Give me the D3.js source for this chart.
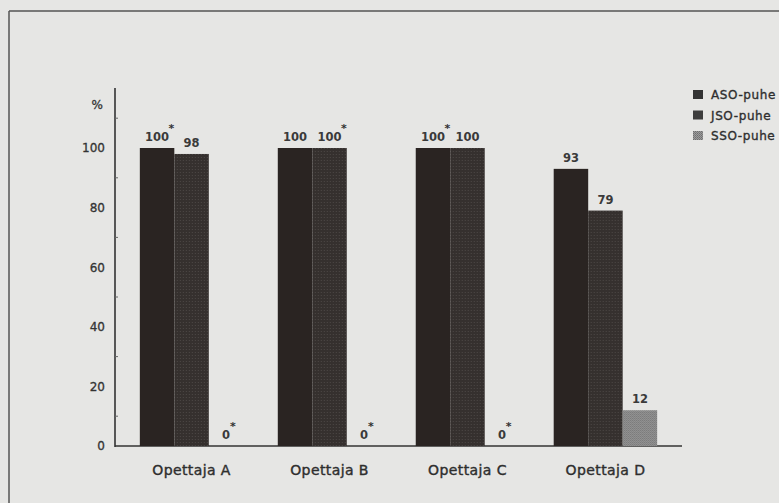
<!DOCTYPE html>
<html><head><meta charset="utf-8">
<script src="https://cdn.jsdelivr.net/npm/d3@7/dist/d3.min.js"></script>
<style>html,body{margin:0;padding:0;background:#e6e6e4;}svg{display:block;}</style>
</head><body>
<svg id="c" width="779" height="503"></svg>
<script>
const categories = ["Opettaja A", "Opettaja B", "Opettaja C", "Opettaja D"];
const series = ["ASO-puhe", "JSO-puhe", "SSO-puhe"];
const aso = [100, 100, 100, 93];
const jso = [98, 100, 100, 79];
const sso = [0, 0, 0, 12];
const asoStar = [true, false, true, false];
const jsoStar = [false, true, false, false];
const ssoStar = [true, true, true, false];
const yTicks = [0, 20, 40, 60, 80, 100];
const yMinorTicks = [10, 30, 50, 70, 90, 110];

const values = [aso, jso, sso];
const stars = [asoStar, jsoStar, ssoStar];

const svg = d3.select("#c");
const defs = svg.append("defs");
const pj = defs.append("pattern").attr("id","pj").attr("width",3).attr("height",3).attr("patternUnits","userSpaceOnUse");
pj.append("rect").attr("width",3).attr("height",3).attr("fill","#35302e");
pj.append("rect").attr("x",1).attr("y",1).attr("width",1).attr("height",1).attr("fill","#4d4846");
const ps = defs.append("pattern").attr("id","ps").attr("width",2).attr("height",2).attr("patternUnits","userSpaceOnUse");
ps.append("rect").attr("width",2).attr("height",2).attr("fill","#9c9c9c");
ps.append("rect").attr("width",1).attr("height",1).attr("fill","#6e6e6e");
ps.append("rect").attr("x",1).attr("y",1).attr("width",1).attr("height",1).attr("fill","#7a7a7a");

const fills = ["#2a2422", "url(#pj)", "url(#ps)"];
const legendFills = ["#333", "#3d3d3d", "url(#ps)"];

svg.append("line").attr("x1",9).attr("x2",779).attr("y1",11).attr("y2",11).attr("stroke","#555").attr("stroke-width",1.5);
svg.append("line").attr("x1",9).attr("x2",9).attr("y1",11).attr("y2",503).attr("stroke","#555").attr("stroke-width",1.5);

const y = d3.scaleLinear().domain([0, 100]).range([446, 148]);
const x = d3.scaleBand().domain(categories).range([115, 682]).paddingInner(0.25).paddingOuter(0.18);
const xi = d3.scaleBand().domain(series).range([0, x.bandwidth()]);

const ink = "#333";
const font = "DejaVu Sans, Liberation Sans, Arial, sans-serif";
function heavy(sel, w){ return sel.attr("stroke", "#333").attr("stroke-width", w).attr("paint-order","stroke"); }

svg.append("line").attr("x1",115).attr("x2",682).attr("y1",y(0)).attr("y2",y(0)).attr("stroke",ink).attr("stroke-width",1.5);

const yAxis = d3.axisLeft(y).tickValues(yTicks).tickSize(0).tickPadding(10);
const ga = svg.append("g").attr("transform","translate(115,0)").call(yAxis);
ga.select(".domain").remove();
heavy(ga.selectAll("text").attr("font-family",font).attr("font-size",12).attr("fill",ink), 0.3);
svg.append("line").attr("x1",115).attr("x2",115).attr("y1",88).attr("y2",y(0)+1).attr("stroke",ink).attr("stroke-width",1.6);
svg.selectAll(".minor").data(yMinorTicks).join("line")
  .attr("x1",115).attr("x2",118).attr("y1",d=>y(d)).attr("y2",d=>y(d)).attr("stroke","#666").attr("stroke-width",1);
heavy(svg.append("text").attr("x",103).attr("y",109).attr("text-anchor","end").attr("font-family",font).attr("font-size",12).attr("fill",ink).text("%"), 0.3);

const groups = svg.selectAll(".grp").data(categories).join("g").attr("transform",d=>`translate(${x(d)},0)`);
series.forEach((s, si) => {
  groups.each(function(cat, ci){
    const v = values[si][ci];
    const g = d3.select(this);
    const bx = xi(s), bw = xi.bandwidth();
    if (v > 0) {
      g.append("rect").attr("x",bx).attr("width",bw).attr("y",y(v)).attr("height",y(0)-y(v)).attr("fill",fills[si]);
    }
    const lbl = String(v);
    const ly = y(v) - 7;
    g.append("text").attr("x",bx+bw/2).attr("y",ly).attr("text-anchor","middle")
      .attr("font-family",font).attr("font-size",11.5).attr("font-weight","bold").attr("fill","#3a3a3a").text(lbl);
    if (stars[si][ci]) {
      g.append("text").attr("x",bx+bw/2+lbl.length*3.8+3).attr("y",ly-9).attr("text-anchor","middle")
        .attr("font-family",font).attr("font-size",11).attr("font-weight","bold").attr("fill","#333").text("*");
    }
  });
});

heavy(svg.selectAll(".cat").data(categories).join("text")
  .attr("x",d=>x(d)+x.bandwidth()/2).attr("y",475).attr("text-anchor","middle")
  .attr("font-family",font).attr("font-size",14).attr("letter-spacing",0.4).attr("fill","#2e2e2e").text(d=>d), 0.4);

const lg = svg.selectAll(".lg").data(series).join("g").attr("transform",(d,i)=>`translate(693,${90+i*20.5})`);
lg.append("rect").attr("width",10).attr("height",9).attr("fill",(d,i)=>legendFills[i]);
heavy(lg.append("text").attr("x",18).attr("y",9).attr("font-family",font).attr("font-size",12).attr("letter-spacing",0.6).attr("fill","#2e2e2e").text(d=>d), 0.35);
</script>
</body></html>
